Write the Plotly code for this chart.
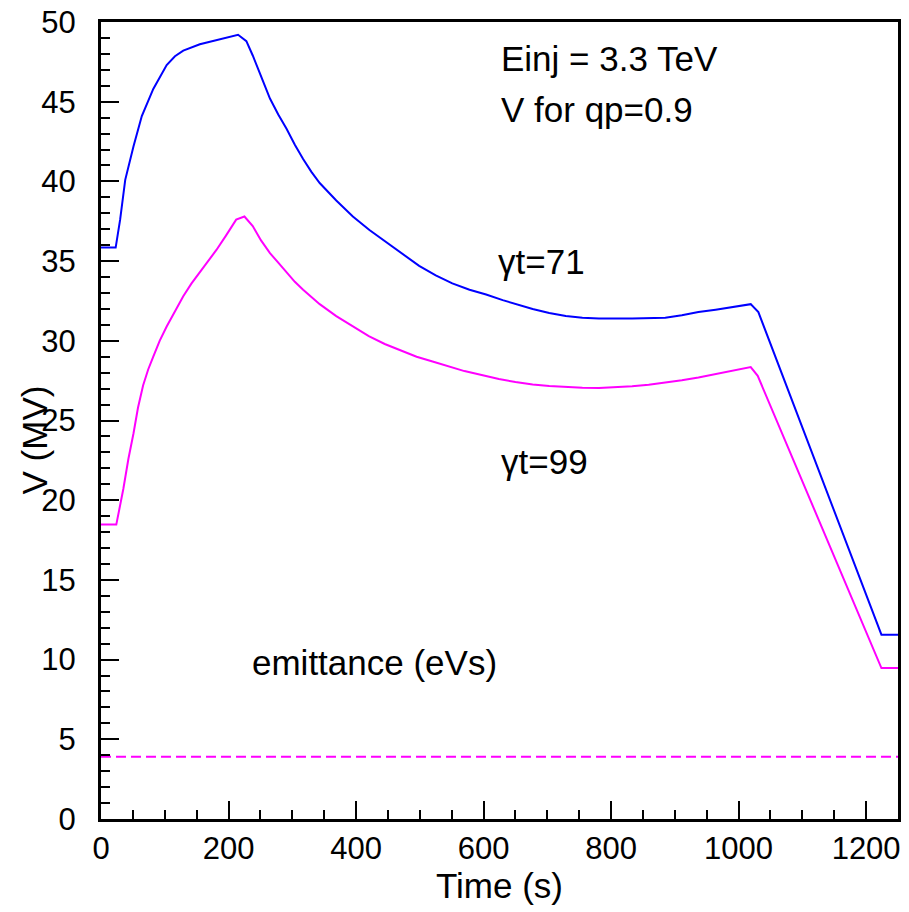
import plotly.graph_objects as go

# Data
t_gt71 = [0, 23, 30, 38, 51, 64, 82, 103, 116, 129, 155, 186, 215, 228, 238, 250, 265, 278,
          291, 304, 317, 330, 343, 369, 395, 421, 447, 473, 499, 525, 551, 578, 604, 630, 656,
          677, 703, 729, 755, 781, 833, 885, 911, 937, 964, 990, 1019, 1031, 1224, 1250]
v_gt71 = [35.85, 35.85, 37.6, 40.1, 42.2, 44.1, 45.8, 47.3, 47.85, 48.2, 48.6, 48.9, 49.2, 48.8,
          47.9, 46.7, 45.2, 44.2, 43.3, 42.3, 41.4, 40.6, 39.9, 38.8, 37.8, 36.95, 36.2, 35.4,
          34.7, 34.1, 33.6, 33.2, 32.9, 32.55, 32.25, 32.0, 31.75, 31.55, 31.45, 31.4, 31.4,
          31.45, 31.6, 31.8, 31.95, 32.1, 32.3, 31.8, 11.56, 11.56]

t_gt99 = [0, 24, 35, 43, 51, 58, 66, 74, 82, 92, 103, 116, 129, 142, 155, 168, 181, 196, 212,
          225, 238, 251, 265, 278, 291, 304, 317, 343, 369, 395, 420, 445, 470, 495, 520, 545,
          570, 597, 624, 650, 677, 703, 729, 755, 781, 807, 833, 859, 885, 911, 937, 964, 990,
          1019, 1030, 1224, 1250]
v_gt99 = [18.47, 18.47, 20.7, 22.6, 24.2, 25.8, 27.2, 28.2, 29.0, 30.0, 30.9, 31.9, 32.8, 33.6,
          34.3, 35.0, 35.7, 36.6, 37.6, 37.8, 37.2, 36.3, 35.5, 34.9, 34.3, 33.7, 33.2, 32.3,
          31.55, 30.9, 30.3, 29.8, 29.4, 29.0, 28.7, 28.4, 28.1, 27.85, 27.6, 27.42, 27.26,
          27.17, 27.1, 27.06, 27.04, 27.08, 27.15, 27.24, 27.36, 27.52, 27.7, 27.9, 28.1,
          28.35, 27.8, 9.47, 9.47]

t_emit = [0, 1250]
v_emit = [3.9, 3.9]

FONT = "Liberation Sans, Arial, sans-serif"
FS_TICK = 31
FS_TEXT = 35

fig = go.Figure()
fig.add_trace(go.Scatter(x=t_gt71, y=v_gt71, mode="lines",
                         line=dict(color="#0000ff", width=2), showlegend=False))
fig.add_trace(go.Scatter(x=t_gt99, y=v_gt99, mode="lines",
                         line=dict(color="#ff00ff", width=2), showlegend=False))
fig.add_trace(go.Scatter(x=t_emit, y=v_emit, mode="lines",
                         line=dict(color="#ff00ff", width=2, dash="10px,5px"), showlegend=False))

annots = [
    ("Einj = 3.3 TeV", 624, 47.7),
    ("V for qp=0.9", 624, 44.5),
    ("γt=71", 620, 35.0),
    ("γt=99", 624, 22.4),
    ("emittance (eVs)", 233, 9.8),
]
for txt, x, y in annots:
    fig.add_annotation(x=x, y=y, text=txt, showarrow=False, xanchor="left", yanchor="middle",
                       font=dict(family=FONT, size=FS_TEXT, color="black"))

# y-axis title placed as rotated text so it overlaps the tick labels like the original
fig.add_annotation(x=0, y=0.5, xref="paper", yref="paper", text="V (MV)", textangle=-90,
                   showarrow=False, xanchor="center", yanchor="middle", xshift=-67, yshift=-20,
                   font=dict(family=FONT, size=FS_TEXT, color="black"))

axis_common = dict(
    showline=True, linecolor="black", linewidth=3, mirror=True,
    ticks="inside", tickcolor="black", tickwidth=2, ticklen=18,
    showgrid=False, zeroline=False, automargin=False,
    tickfont=dict(family=FONT, size=FS_TICK, color="black"),
)

fig.update_xaxes(range=[0, 1250], dtick=200, tick0=0,
                 minor=dict(dtick=50, ticks="inside", ticklen=9, tickwidth=2, tickcolor="black"),
                 title=dict(text="Time (s)", font=dict(family=FONT, size=FS_TEXT, color="black"), standoff=2),
                 ticklabelstandoff=0,
                 **axis_common)
fig.update_yaxes(range=[0, 50], dtick=5, tick0=0,
                 minor=dict(dtick=1, ticks="inside", ticklen=9, tickwidth=2, tickcolor="black"),
                 ticklabelstandoff=16,
                 **axis_common)

fig.update_layout(
    width=909, height=912,
    margin=dict(l=101, r=11, t=22, b=93),
    plot_bgcolor="white", paper_bgcolor="white",
    font=dict(family=FONT, size=FS_TICK, color="black"),
)

fig.write_html("out.html", config={"displayModeBar": False},
               post_script="document.body.style.margin='0';document.body.style.overflow='hidden';")
